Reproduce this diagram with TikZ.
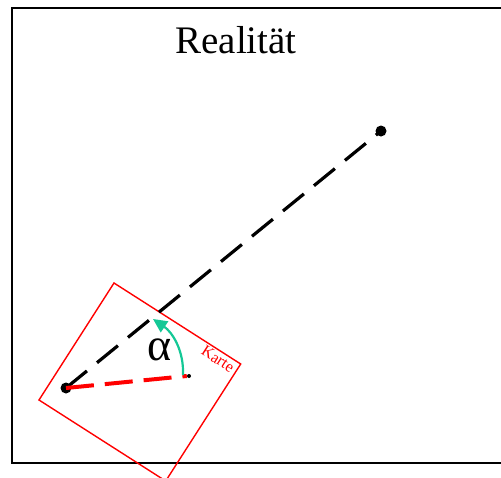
\documentclass[tikz,border=0pt]{standalone}
\usepackage{fontspec}
\setmainfont{Liberation Serif}
\usetikzlibrary{arrows.meta}
\definecolor{teal1}{RGB}{20,200,150}
\tikzset{
  blackdash/.style={line width=3.2pt, dash pattern=on 27pt off 13pt},
  reddash/.style={red, line width=4pt, dash pattern=on 28pt off 11pt},
  dotbig/.style={circle, fill=black, inner sep=0pt, minimum size=11pt},
  dotsmall/.style={circle, fill=black, inner sep=0pt, minimum size=4pt},
  frame/.style={line width=1.5pt},
  mapbox/.style={red, line width=1.4pt},
  anglearrow/.style={teal1, line width=2.2pt, -{Triangle[length=14pt,width=13pt]}}
}
\begin{document}
\begin{tikzpicture}[x=1pt,y=-1pt]
\useasboundingbox (0,0) rectangle (501,477);
\begin{scope}
\clip (0,0) rectangle (501,477);
\draw[frame] (12,8) rectangle (520,463);
\node[font=\fontsize{39}{44}\selectfont] (title) at (236,40) {Realität};
\coordinate (c1) at (114,283);
\coordinate (c2) at (240.7,364);
\coordinate (c3) at (165.7,481);
\coordinate (c4) at (39,400);
\draw[mapbox] (c1) -- (c2) -- (c3) -- (c4) -- cycle;
\node[red, font=\fontsize{16}{18}\selectfont, rotate=-32.6, inner sep=0pt] (karte) at (218,359) {Karte};
\node[dotbig] (a) at (66,388) {};
\node[dotbig] (b) at (381,131) {};
\node[dotsmall] (m) at (189,376) {};
\draw[blackdash] (a.center) -- (b.center);
\draw[reddash] (a.center) -- (m.west);
\coordinate (s) at (183,375);
\coordinate (e) at (153,319);
\draw[anglearrow] (s) .. controls (184,350) and (172,332) .. (e);
\node[font=\fontsize{46}{50}\selectfont] (alpha) at (160,350) {α};
\end{scope}
\end{tikzpicture}
\end{document}
